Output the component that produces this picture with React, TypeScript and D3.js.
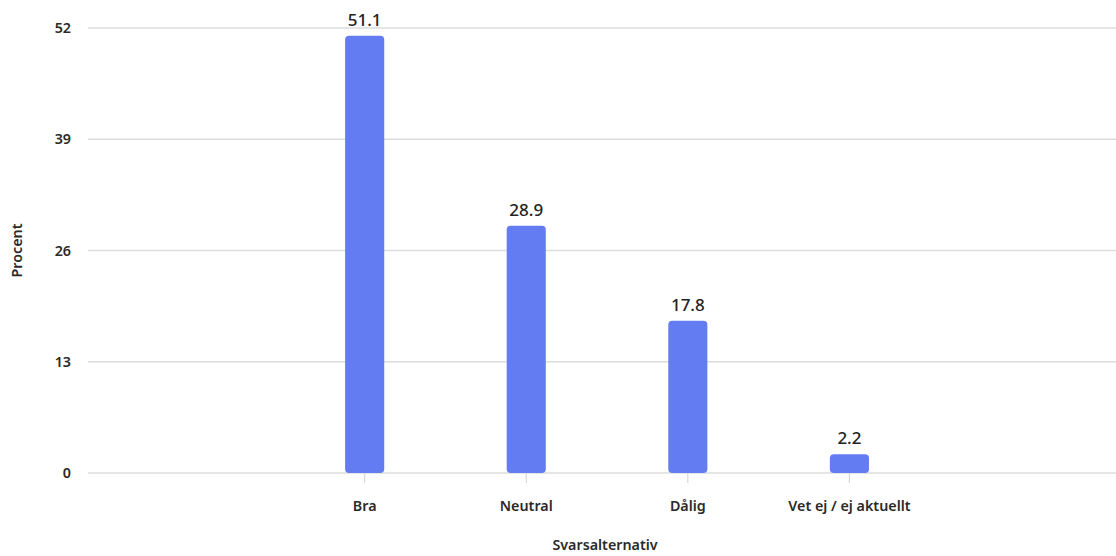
import React from "react";
import * as d3 from "d3";

const categories = ["Bra", "Neutral", "Dålig", "Vet ej / ej aktuellt"];
const values = [51.1, 28.9, 17.8, 2.2];
const yTicks = [0, 13, 26, 39, 52];
const xTitle = "Svarsalternativ";
const yTitle = "Procent";

const W = 1116, H = 556;
const M = { left: 88, right: 0, top: 28, bottom: 83 };

export default function App() {
  const x = d3.scaleBand<string>().domain(categories).range([M.left, W - M.right])
    .paddingInner(0.758).paddingOuter(1.56).align(0.51);
  const y = d3.scaleLinear().domain([0, 52]).range([H - M.bottom, M.top]);
  const font = "'Noto Sans', 'Open Sans', sans-serif";
  const bw = x.bandwidth();
  const fs = 14.3;
  return (
    <svg width={W} height={H} style={{ position: "absolute", left: 0, top: 0, fontFamily: font }}>
      {yTicks.map(t => (
        <g key={t}>
          <line x1={M.left} x2={W - M.right} y1={y(t)} y2={y(t)} stroke="#dcdcdc" strokeWidth={1.5} />
          <text x={71} y={y(t)} dy="0.35em" textAnchor="end" fontSize={fs} fontWeight={600} fill="#2a2a2a">{t}</text>
        </g>
      ))}
      {categories.map((c, i) => {
        const cx = (x(c) as number) + bw / 2;
        const top = y(values[i]);
        const h = y(0) - top;
        return (
          <g key={c}>
            <line x1={cx} x2={cx} y1={y(0)} y2={y(0) + 10} stroke="#d0d0d0" strokeWidth={1} />
            <rect x={x(c)} y={top} width={bw} height={h} rx={4} ry={4} fill="#647cf2" />
            <text x={cx} y={top - 10} textAnchor="middle" fontSize={17} fontWeight={500} fill="#222">{values[i].toFixed(1)}</text>
            <text x={cx} y={y(0) + 33} dy="0.35em" textAnchor="middle" fontSize={fs} fontWeight={600} fill="#2a2a2a">{c}</text>
          </g>
        );
      })}
      <text x={(M.left + W - M.right) / 2 + 3} y={545} dy="0.35em" textAnchor="middle" fontSize={fs} fontWeight={600} fill="#2a2a2a">{xTitle}</text>
      <text transform={`translate(17,${(M.top + H - M.bottom) / 2}) rotate(-90)`} dy="0.35em" textAnchor="middle" fontSize={fs} fontWeight={600} fill="#2a2a2a">{yTitle}</text>
    </svg>
  );
}
